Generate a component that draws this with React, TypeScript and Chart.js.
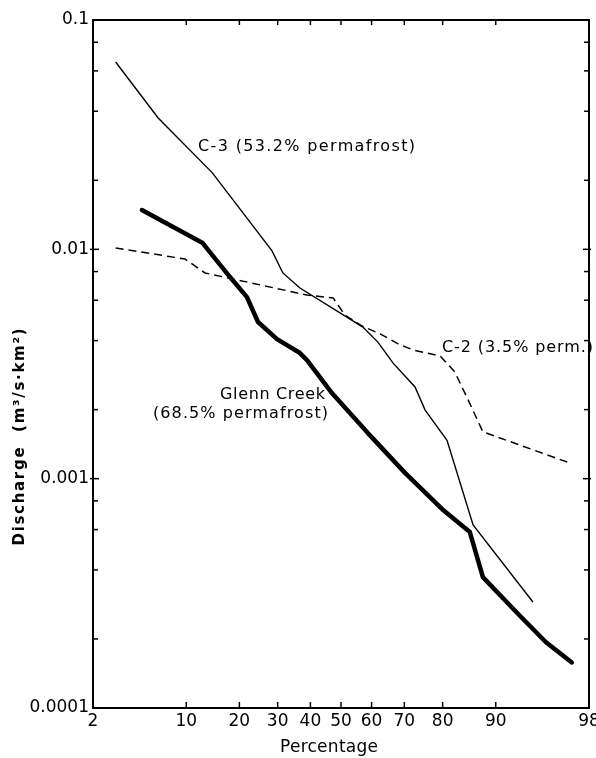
import React, { useEffect, useRef } from 'react';
import { Chart, Scale, registerables } from 'chart.js';

// ---------- data ----------
const xTickValues = [2, 10, 20, 30, 40, 50, 60, 70, 80, 90, 98];
const yDecades = [0.0001, 0.001, 0.01, 0.1];
const yTickLabels = ['0.0001', '0.001', '0.01', '0.1'];
const yMinorSteps = [2, 4, 6, 8];

const c3Pct = [3.1, 6.5, 14.3, 28.4, 31.5, 36.7, 57.2, 62.0, 66.7, 73.0, 75.7, 81.0, 86.3, 94.4];
const c3Q = [0.0656, 0.0374, 0.0216, 0.00985, 0.00789, 0.00678, 0.00458, 0.00394, 0.00319, 0.00251, 0.00199, 0.00147, 0.000628, 0.00029];

const c2Pct = [3.1, 9.8, 13.0, 38.9, 47.4, 51.3, 56.9, 62.7, 68.2, 72.5, 79.4, 82.7, 85.4, 88.0, 97.1];
const c2Q = [0.01013, 0.00908, 0.00789, 0.00632, 0.00614, 0.00517, 0.00463, 0.00428, 0.00387, 0.00364, 0.00343, 0.00292, 0.0022, 0.0016, 0.00117];

const glennPct = [4.96, 12.6, 17.9, 21.8, 24.6, 29.8, 36.7, 38.9, 46.7, 58.8, 70.2, 79.9, 85.7, 88.0, 92.8, 95.5, 97.2];
const glennQ = [0.01483, 0.01065, 0.00757, 0.00619, 0.00482, 0.00406, 0.00353, 0.00329, 0.00239, 0.00158, 0.00106, 0.000736, 0.000585, 0.000372, 0.000259, 0.000194, 0.000158];

const seriesNames = ['C-3', 'C-2', 'Glenn Creek'];
const labelC3 = 'C-3 (53.2% permafrost)';
const labelC2 = 'C-2 (3.5% perm.)';
const labelGlenn1 = 'Glenn Creek';
const labelGlenn2 = '(68.5% permafrost)';
const xTitle = 'Percentage';
const yTitle = 'Discharge  (m³/s·km²)';

// ---------- normal probability helpers ----------
function normInv(p: number): number {
  const a = [-3.969683028665376e1, 2.209460984245205e2, -2.759285104469687e2, 1.38357751867269e2, -3.066479806614716e1, 2.506628277459239];
  const b = [-5.447609879822406e1, 1.615858368580409e2, -1.556989798598866e2, 6.680131188771972e1, -1.328068155288572e1];
  const c = [-7.784894002430293e-3, -3.223964580411365e-1, -2.400758277161838, -2.549732539343734, 4.374664141464968, 2.938163982698783];
  const d = [7.784695709041462e-3, 3.224671290700398e-1, 2.445134137142996, 3.754408661907416];
  const pl = 0.02425;
  if (p < pl) {
    const q = Math.sqrt(-2 * Math.log(p));
    return (((((c[0] * q + c[1]) * q + c[2]) * q + c[3]) * q + c[4]) * q + c[5]) / ((((d[0] * q + d[1]) * q + d[2]) * q + d[3]) * q + 1);
  }
  if (p <= 1 - pl) {
    const q = p - 0.5;
    const r = q * q;
    return ((((((a[0] * r + a[1]) * r + a[2]) * r + a[3]) * r + a[4]) * r + a[5]) * q) / (((((b[0] * r + b[1]) * r + b[2]) * r + b[3]) * r + b[4]) * r + 1);
  }
  const q = Math.sqrt(-2 * Math.log(1 - p));
  return -(((((c[0] * q + c[1]) * q + c[2]) * q + c[3]) * q + c[4]) * q + c[5]) / ((((d[0] * q + d[1]) * q + d[2]) * q + d[3]) * q + 1);
}
function normCdf(z: number): number {
  const t = 1 / (1 + 0.3275911 * Math.abs(z) / Math.SQRT2);
  const y = 1 - (((((1.061405429 * t - 1.453152027) * t) + 1.421413741) * t - 0.284496736) * t + 0.254829592) * t * Math.exp(-z * z / 2);
  return z >= 0 ? 0.5 * (1 + y) : 0.5 * (1 - y);
}

class ProbitScale extends Scale {
  static id = 'probit';
  static defaults = {};
  _zMin = -2;
  _zMax = 2;
  parse(raw: any) {
    return typeof raw === 'number' ? raw : Number(raw);
  }
  determineDataLimits() {
    const o: any = this.options;
    (this as any).min = o.min;
    (this as any).max = o.max;
  }
  buildTicks() {
    return xTickValues.map((v) => ({ value: v }));
  }
  getLabelForValue(v: number) {
    return String(v);
  }
  configure() {
    super.configure();
    this._zMin = normInv((this as any).min / 100);
    this._zMax = normInv((this as any).max / 100);
  }
  getPixelForValue(v: number) {
    const z = normInv(v / 100);
    return this.getPixelForDecimal((z - this._zMin) / (this._zMax - this._zMin));
  }
  getValueForPixel(px: number) {
    const dec = this.getDecimalForPixel(px);
    return normCdf(this._zMin + dec * (this._zMax - this._zMin)) * 100;
  }
}

Chart.register(...registerables, ProbitScale as any);

const FONT = 'DejaVu Sans';

function fitText(ctx: CanvasRenderingContext2D, text: string, x: number, y: number, font: string, target: number, align: CanvasTextAlign) {
  ctx.font = font;
  (ctx as any).letterSpacing = '0px';
  const w = ctx.measureText(text).width;
  let sp = (target - w) / Math.max(1, text.length - 1);
  sp = Math.max(-1, Math.min(3, sp));
  (ctx as any).letterSpacing = sp + 'px';
  const full = w + sp * (text.length - 1);
  let sx = x;
  if (align === 'center') sx = x - full / 2;
  else if (align === 'right') sx = x - full;
  ctx.textAlign = 'left';
  ctx.fillText(text, sx, y);
  (ctx as any).letterSpacing = '0px';
}

const framePlugin = {
  id: 'frameAndText',
  beforeDraw(chart: any) {
    const ctx = chart.ctx;
    ctx.save();
    ctx.fillStyle = '#fff';
    ctx.fillRect(0, 0, chart.width, chart.height);
    ctx.restore();
  },
  afterDraw(chart: any) {
    const { ctx, chartArea: a, scales } = chart;
    const xs = scales.x;
    const ys = scales.y;
    ctx.save();
    ctx.strokeStyle = '#000';
    ctx.lineWidth = 2;
    ctx.strokeRect(a.left, a.top, a.right - a.left, a.bottom - a.top);
    ctx.lineWidth = 1.5;
    const line = (x1: number, y1: number, x2: number, y2: number) => {
      ctx.beginPath();
      ctx.moveTo(x1, y1);
      ctx.lineTo(x2, y2);
      ctx.stroke();
    };
    xTickValues.forEach((v) => {
      if (v === xs.min || v === xs.max) return;
      const px = xs.getPixelForValue(v);
      line(px, a.bottom, px, a.bottom - 6);
      line(px, a.top, px, a.top + 5);
    });
    yDecades.forEach((d) => {
      const py = ys.getPixelForValue(d);
      if (d !== ys.min && d !== ys.max) {
        line(a.left - 3, py, a.left + 6, py);
        line(a.right - 6, py, a.right + 2, py);
      }
      if (d < ys.max) {
        yMinorSteps.forEach((m) => {
          const v = m * d;
          if (v >= ys.max) return;
          const p = ys.getPixelForValue(v);
          line(a.left, p, a.left + 5, p);
          line(a.right - 5, p, a.right, p);
        });
      }
    });

    ctx.fillStyle = '#000';
    ctx.textBaseline = 'middle';
    fitText(ctx, labelC3, 198, 147, `16px "${FONT}"`, 217, 'left');
    fitText(ctx, labelC2, 442, 348, `16px "${FONT}"`, 151, 'left');
    fitText(ctx, labelGlenn1, 220, 395, `16px "${FONT}"`, 105, 'left');
    fitText(ctx, labelGlenn2, 153, 414, `16px "${FONT}"`, 175, 'left');

    fitText(ctx, xTitle, 329, 748, `17px "${FONT}"`, 98, 'center');

    ctx.save();
    ctx.translate(20, 437);
    ctx.rotate(-Math.PI / 2);
    fitText(ctx, yTitle, 0, 0, `bold 15px "${FONT}"`, 217, 'center');
    ctx.restore();

    ctx.restore();
  },
};

export default function App() {
  const ref = useRef<HTMLCanvasElement | null>(null);
  useEffect(() => {
    if (!ref.current) return;
    const toXY = (xs: number[], ys: number[]) => xs.map((x, i) => ({ x, y: ys[i] }));
    const chart = new Chart(ref.current, {
      type: 'line',
      data: {
        datasets: [
          {
            label: seriesNames[0],
            data: toXY(c3Pct, c3Q),
            borderColor: '#000',
            borderWidth: 1.4,
            pointRadius: 0,
            tension: 0,
            fill: false,
          },
          {
            label: seriesNames[1],
            data: toXY(c2Pct, c2Q),
            borderColor: '#000',
            borderWidth: 1.5,
            borderDash: [8, 5],
            pointRadius: 0,
            tension: 0,
            fill: false,
          },
          {
            label: seriesNames[2],
            data: toXY(glennPct, glennQ),
            borderColor: '#000',
            borderWidth: 4.5,
            borderCapStyle: 'round',
            borderJoinStyle: 'round',
            pointRadius: 0,
            tension: 0,
            fill: false,
          },
        ],
      } as any,
      options: {
        animation: false,
        responsive: false,
        events: [],
        layout: { padding: { left: 0, top: 20, right: 7, bottom: 0 } },
        plugins: { legend: { display: false }, tooltip: { enabled: false } },
        scales: {
          x: {
            type: 'probit' as any,
            min: 2,
            max: 98,
            grid: { display: false, drawTicks: false },
            border: { display: false },
            ticks: {
              autoSkip: false,
              maxRotation: 0,
              minRotation: 0,
              padding: 3,
              color: '#000',
              font: { family: FONT, size: 17 },
            },
            afterFit: (s: any) => {
              s.height = 50;
              s.paddingLeft = 0;
              s.paddingRight = 0;
            },
          } as any,
          y: {
            type: 'logarithmic',
            min: 0.0001,
            max: 0.1,
            grid: { display: false, drawTicks: false },
            border: { display: false },
            afterBuildTicks: (s: any) => {
              s.ticks = yDecades.map((v) => ({ value: v }));
            },
            ticks: {
              autoSkip: false,
              padding: 4,
              color: '#000',
              font: { family: FONT, size: 17 },
              callback: (v: any) => {
                const i = yDecades.indexOf(Number(v));
                return i >= 0 ? yTickLabels[i] : '';
              },
            },
            afterFit: (s: any) => {
              s.width = 93;
              s.paddingTop = 0;
              s.paddingBottom = 0;
            },
          } as any,
        },
      },
      plugins: [framePlugin],
    });
    return () => chart.destroy();
  }, []);
  return (
    <div style={{ position: 'absolute', left: 0, top: 0, width: 596, height: 758, background: '#fff' }}>
      <canvas ref={ref} width={596} height={758} style={{ display: 'block' }} />
    </div>
  );
}
